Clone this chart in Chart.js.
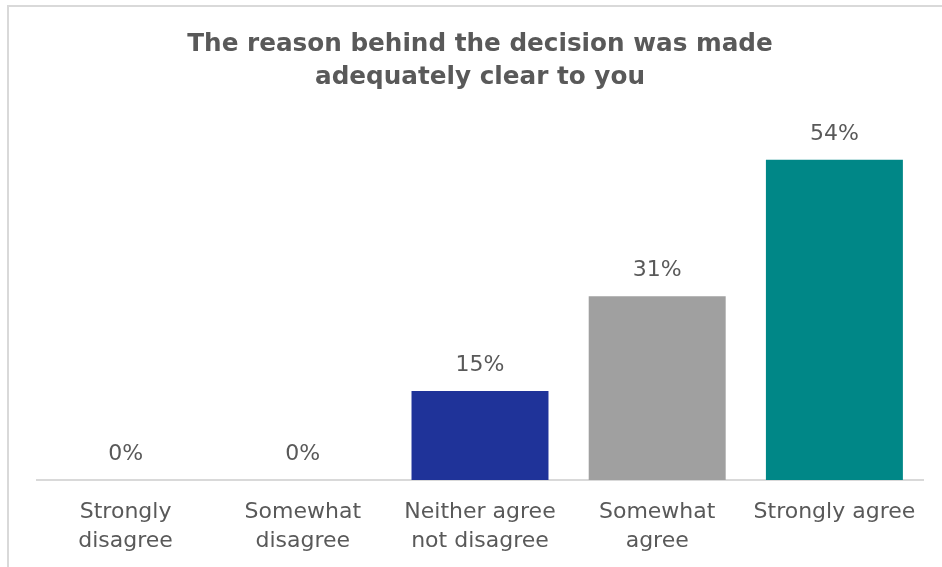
<!DOCTYPE html>
<html>
<head>
<meta charset="utf-8">
<script src="https://cdn.jsdelivr.net/npm/chart.js@4"></script>
<style>
  html, body { margin: 0; padding: 0; background: #fff; }
  #wrap { position: relative; width: 942px; height: 567px; overflow: hidden; }
  #frame { position: absolute; left: 7px; top: 5px; right: -10px; bottom: -10px;
           border-top: 2px solid #d9d9d9; border-left: 2px solid #d9d9d9; }
  #chart { position: absolute; left: 0; top: 0; }
</style>
</head>
<body>
<div id="wrap">
  <div id="frame"></div>
  <canvas id="chart" width="942" height="567"></canvas>
</div>
<script>
// chart data
const categories = [
    ['Strongly', 'disagree'],
    ['Somewhat', 'disagree'],
    ['Neither agree', 'not disagree'],
    ['Somewhat', 'agree'],
    'Strongly agree'
];
const values = [0, 0, 15, 31, 54];
const barColors = ['#1f3399', '#1f3399', '#1f3399', '#a0a0a0', '#008787'];
const titleLines = ['The reason behind the decision was made', 'adequately clear to you'];

const textGray = '#595959';
const fontFamily = "'DejaVu Sans', sans-serif";

// draws "x%" above each bar
const valueLabels = {
    id: 'valueLabels',
    afterDatasetsDraw(chart) {
        const ctx = chart.ctx;
        const meta = chart.getDatasetMeta(0);
        ctx.save();
        ctx.font = '22px ' + fontFamily;
        ctx.fillStyle = textGray;
        ctx.textAlign = 'center';
        ctx.textBaseline = 'middle';
        meta.data.forEach((bar, i) => {
            ctx.fillText(values[i] + '%', bar.x, bar.y - 26);
        });
        ctx.restore();
    }
};

new Chart(document.getElementById('chart').getContext('2d'), {
    type: 'bar',
    data: {
        labels: categories,
        datasets: [{
            data: values,
            backgroundColor: barColors,
            borderWidth: 0,
            categoryPercentage: 1,
            barPercentage: 0.773
        }]
    },
    options: {
        responsive: false,
        animation: false,
        layout: { padding: { left: 37, right: 19, top: 0, bottom: 0 } },
        plugins: {
            legend: { display: false },
            tooltip: { enabled: false },
            title: {
                display: true,
                text: titleLines,
                color: textGray,
                font: { family: fontFamily, size: 24.7, weight: 'bold', lineHeight: 1.3 },
                padding: { top: 29, bottom: 31 }
            }
        },
        scales: {
            x: {
                grid: { display: false, drawTicks: false },
                border: { display: true, color: '#d9d9d9', width: 2 },
                ticks: {
                    color: textGray,
                    font: { family: fontFamily, size: 22, lineHeight: 1.32 },
                    padding: 18,
                    maxRotation: 0,
                    autoSkip: false
                },
                afterFit(scale) { scale.height = 87; }
            },
            y: {
                display: false,
                min: 0,
                max: 60
            }
        }
    },
    plugins: [valueLabels]
});
</script>
</body>
</html>
